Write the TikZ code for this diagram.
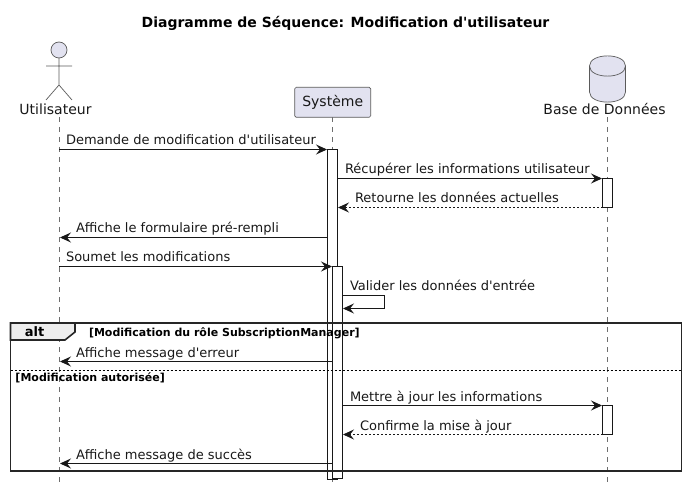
\documentclass[tikz,border=0pt]{standalone}
\usepackage{fontspec}
\setmainfont{DejaVu Sans}[Ligatures=TeXOff]
\usetikzlibrary{arrows.meta}
\definecolor{partfill}{HTML}{E2E2F0}
\definecolor{partline}{HTML}{5A5A5A}
\definecolor{lifeline}{HTML}{6E6E6E}
\definecolor{ink}{HTML}{181818}
\tikzset{
  x=1pt,y=-1pt,
  txt/.style={inner sep=0pt,outer sep=0pt,text=ink,font=\fontsize{13}{15}\selectfont},
  msg/.style={txt,anchor=base west},
  part/.style={txt,anchor=base,font=\fontsize{14}{16}\selectfont},
  cond/.style={inner sep=0pt,outer sep=0pt,text=black,anchor=base west,font=\fontsize{11}{13}\selectfont\bfseries},
  life/.style={draw=lifeline,line width=0.6pt,dash pattern=on 5pt off 5pt},
  actorline/.style={draw=partline,line width=0.7pt},
  bar/.style={draw=ink,fill=white,line width=0.8pt,inner sep=0pt,outer sep=0pt,minimum width=10pt},
  tip/.style={-{Stealth[length=11pt,width=10pt,inset=4pt]}},
  call/.style={draw=ink,line width=0.9pt,tip},
  back/.style={draw=ink,line width=0.8pt,dash pattern=on 2pt off 2pt,tip},
  frameline/.style={draw=black!85,line width=1.6pt},
}
\begin{document}
\begin{tikzpicture}
\useasboundingbox (0,0) rectangle (687,494);
\node[anchor=base,inner sep=0pt,font=\fontsize{14}{16}\selectfont\bfseries,text=black] (title) at (345.5,28) {Diagramme de Séquence: Modification d'utilisateur};

% lifelines
\coordinate (uTop) at (59,117);
\coordinate (uEnd) at (59,484);
\coordinate (sTop) at (332.5,117);
\coordinate (sEnd) at (332.5,484);
\coordinate (dTop) at (607.5,117);
\coordinate (dEnd) at (607.5,484);
\draw[life] (uTop) -- (uEnd);
\draw[life] (sTop) -- (sEnd);
\draw[life] (dTop) -- (dEnd);

% actor
\draw[actorline,fill=partfill] (59,50) circle (8);
\draw[actorline] (59,58) -- (59,85) (46,66) -- (72,66) (46,100) -- (59,85) -- (72,100);
\node[part] (actorLabel) at (55.5,115) {Utilisateur};

% participant
\node[draw=partline,fill=partfill,line width=0.7pt,rounded corners=1.5pt,minimum width=76pt,minimum height=30pt,inner sep=0pt,text=ink,font=\fontsize{14}{16}\selectfont] (sys) at (332.7,102.3) {Système};

% database
\draw[actorline,fill=partfill] (589.5,66) .. controls (589.5,52.5) and (625.5,52.5) .. (625.5,66) -- (625.5,92) .. controls (625.5,105.5) and (589.5,105.5) .. (589.5,92) -- cycle;
\draw[actorline] (589.5,66) .. controls (589.5,79.5) and (625.5,79.5) .. (625.5,66);
\node[part] (dbLabel) at (604.5,115) {Base de Données};

% activation bars
\node[bar,anchor=north,minimum height=330pt] (a1) at (332.5,149) {};
\node[bar,anchor=north,minimum height=212pt] (a2) at (337.5,266.5) {};
\node[bar,anchor=north,minimum height=29pt] (d1) at (607.5,178) {};
\node[bar,anchor=north,minimum height=29pt] (d2) at (607.5,405) {};

% alt frame
\coordinate (fTL) at (10.5,323);
\coordinate (fBR) at (681.5,471);
\draw[frameline,fill=black!7] (10.5,340) -- (fTL) -- (75,323) -- (75,332) -- (65,340) -- cycle;
\draw[frameline] (fTL) rectangle (fBR);
\node[inner sep=0pt,anchor=base,text=black,font=\fontsize{13}{15}\selectfont\bfseries] (altLabel) at (34.5,336) {alt};
\node[cond] (c1) at (89,336) {[Modification du rôle SubscriptionManager]};
\coordinate (sepL) at (10.5,370.5);
\coordinate (sepR) at (681.5,370.5);
\draw[draw=black,line width=0.7pt,dash pattern=on 2pt off 2pt] (sepL) -- (sepR);
\node[cond] (c2) at (15.5,381) {[Modification autorisée]};

% messages
\coordinate (m1a) at (59,149.5);
\coordinate (m1b) at (327,149.5);
\draw[call] (m1a) -- (m1b);
\node[msg] (t1) at (66,145) {Demande de modification d'utilisateur};

\coordinate (m2a) at (337.5,178.5);
\coordinate (m2b) at (602,178.5);
\draw[call] (m2a) -- (m2b);
\node[msg] (t2) at (345,174) {Récupérer les informations utilisateur};

\coordinate (m3a) at (602.5,207.5);
\coordinate (m3b) at (338,207.5);
\draw[back] (m3a) -- (m3b);
\node[msg] (t3) at (355,203) {Retourne les données actuelles};

\coordinate (m4a) at (327.5,237.5);
\coordinate (m4b) at (60,237.5);
\draw[call] (m4a) -- (m4b);
\node[msg] (t4) at (76,233) {Affiche le formulaire pré-rempli};

\coordinate (m5a) at (59,266.5);
\coordinate (m5b) at (332,266.5);
\draw[call] (m5a) -- (m5b);
\node[msg] (t5) at (66,261) {Soumet les modifications};

\coordinate (m6a) at (342.5,295.5);
\coordinate (m6c) at (384.5,295.5);
\coordinate (m6d) at (384.5,308.5);
\coordinate (m6b) at (343,308.5);
\draw[call] (m6a) -- (m6c) -- (m6d) -- (m6b);
\node[msg] (t6) at (350,290) {Valider les données d'entrée};

\coordinate (m7a) at (332,361.5);
\coordinate (m7b) at (60,361.5);
\draw[call] (m7a) -- (m7b);
\node[msg] (t7) at (76,357) {Affiche message d'erreur};

\coordinate (m8a) at (342.5,405.5);
\coordinate (m8b) at (602,405.5);
\draw[call] (m8a) -- (m8b);
\node[msg] (t8) at (350,401) {Mettre à jour les informations};

\coordinate (m9a) at (602.5,434.5);
\coordinate (m9b) at (343,434.5);
\draw[back] (m9a) -- (m9b);
\node[msg] (t9) at (360,430) {Confirme la mise à jour};

\coordinate (m10a) at (332,463.5);
\coordinate (m10b) at (60,463.5);
\draw[call] (m10a) -- (m10b);
\node[msg] (t10) at (76,459) {Affiche message de succès};
\end{tikzpicture}
\end{document}
